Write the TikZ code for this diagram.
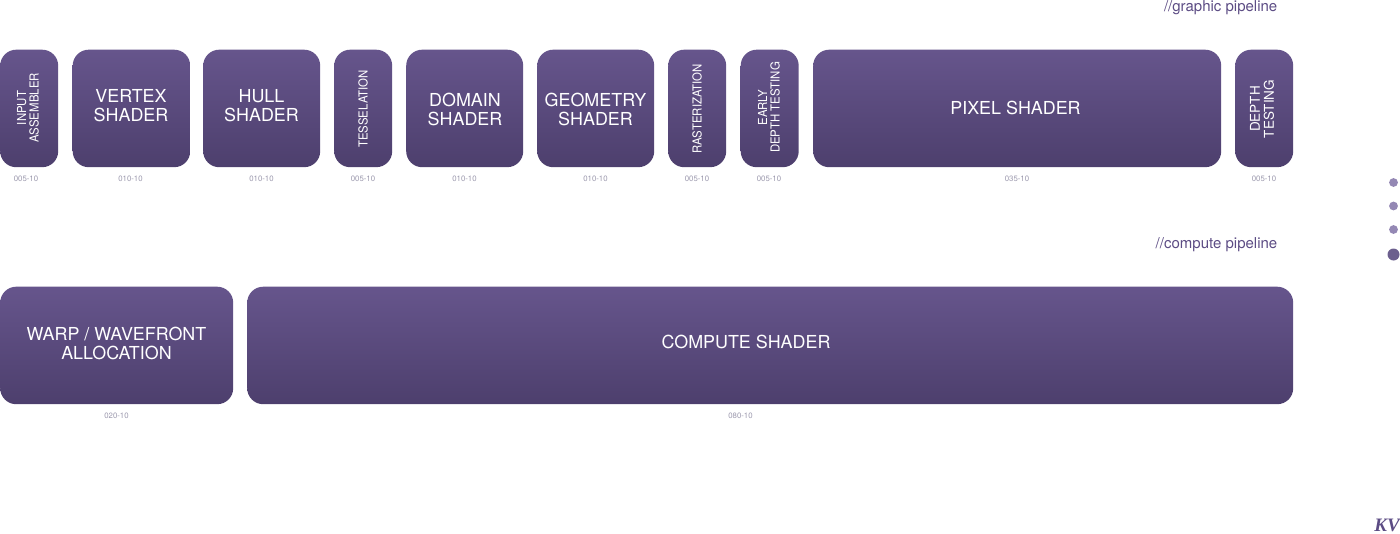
\documentclass[tikz,border=0pt]{standalone}
\usepackage{fontspec}
\setmainfont{TeX Gyre Heros}
\newfontfamily\sidefont[FakeStretch=0.92]{TeX Gyre Heros}
\newfontfamily\logofont{Liberation Serif}
\definecolor{boxtop}{HTML}{66558C}
\definecolor{boxmid}{HTML}{534469}
\definecolor{boxbot}{HTML}{4D3F6D}
\definecolor{headcol}{HTML}{5C4C84}
\definecolor{sizecol}{HTML}{9A97AC}
\definecolor{dotcol}{HTML}{9488B4}
\definecolor{dotdark}{HTML}{6C5F8E}
\tikzset{
  shaderbox/.style={anchor=north west, inner sep=0pt, rounded corners=16pt, draw=none,
    top color=boxtop, middle color=boxmid, bottom color=boxbot, minimum height=117.5pt},
  boxtext/.style={text=white, align=center, inner sep=0pt, font=\fontsize{17.9}{19}\selectfont},
  sidetext/.style={rotate=90, text=white, align=center, inner sep=0pt, font=\sidefont\fontsize{12.4}{12.4}\selectfont},
  sizetext/.style={text=sizecol, inner sep=0pt, font=\fontsize{7.8}{8}\selectfont},
  headtext/.style={text=headcol, inner sep=0pt, anchor=base east, font=\fontsize{15}{16}\selectfont},
  stepdot/.style={circle, fill=dotcol, inner sep=0pt, minimum size=8.8pt},
}
\begin{document}
\begin{tikzpicture}[x=1pt,y=-1pt]
\pgfmathsetmacro{\rowa}{49.5}
\pgfmathsetmacro{\rowb}{286.5}
\useasboundingbox (0,0) rectangle (1400,533);
% graphic pipeline
\node[headtext] (graphichead) at (1277.5,11) {//graphic pipeline};
\node[shaderbox, minimum width=58pt] (input) at (0,\rowa) {};
\node[shaderbox, minimum width=117.5pt] (vertex) at (72.5,\rowa) {};
\node[shaderbox, minimum width=117pt] (hull) at (203,\rowa) {};
\node[shaderbox, minimum width=58pt] (tess) at (334,\rowa) {};
\node[shaderbox, minimum width=117pt] (domain) at (406,\rowa) {};
\node[shaderbox, minimum width=117pt] (geometry) at (537,\rowa) {};
\node[shaderbox, minimum width=58pt] (raster) at (668,\rowa) {};
\node[shaderbox, minimum width=58pt] (early) at (740.5,\rowa) {};
\node[shaderbox, minimum width=408pt] (pixel) at (813,\rowa) {};
\node[shaderbox, minimum width=58pt] (depth) at (1235,\rowa) {};
\node[boxtext] (vertextext) at (131,105.5) {VERTEX\\SHADER};
\node[boxtext] (hulltext) at (261.5,105.5) {HULL\\SHADER};
\node[boxtext] (domaintext) at (465,109.5) {DOMAIN\\SHADER};
\node[boxtext] (geometrytext) at (595.5,109.5) {GEOMETRY\\SHADER};
\node[boxtext] (pixeltext) at (1015.5,107.5) {PIXEL SHADER};
\node[sidetext] (inputtext) at (28,108) {INPUT\\ASSEMBLER};
\node[sidetext] (tesstext) at (363,109) {TESSELATION};
\node[sidetext] (rastertext) at (697,109) {RASTERIZATION};
\node[sidetext] (earlytext) at (769,107.5) {EARLY\\DEPTH TESTING};
\node[sidetext, font=\fontsize{13.5}{14}\selectfont] (depthtext) at (1262,109) {DEPTH\\TESTING};
\node[sizetext] (inputsize) at (26,178.5) {005-10};
\node[sizetext] (vertexsize) at (130.5,178.5) {010-10};
\node[sizetext] (hullsize) at (261.5,178.5) {010-10};
\node[sizetext] (tesssize) at (363,178.5) {005-10};
\node[sizetext] (domainsize) at (464.5,178.5) {010-10};
\node[sizetext] (geometrysize) at (595.5,178.5) {010-10};
\node[sizetext] (rastersize) at (697,178.5) {005-10};
\node[sizetext] (earlysize) at (769,178.5) {005-10};
\node[sizetext] (pixelsize) at (1017,178.5) {035-10};
\node[sizetext] (depthsize) at (1264,178.5) {005-10};
% compute pipeline
\node[headtext] (computehead) at (1277.5,248) {//compute pipeline};
\node[shaderbox, minimum width=233pt] (warp) at (0,\rowb) {};
\node[shaderbox, minimum width=1046pt] (compute) at (247,\rowb) {};
\node[boxtext] (warptext) at (116.5,343.5) {WARP / WAVEFRONT\\ALLOCATION};
\node[boxtext] (computetext) at (746,341.5) {COMPUTE SHADER};
\node[sizetext] (warpsize) at (116.5,415.5) {020-10};
\node[sizetext] (computesize) at (740.5,415.5) {080-10};
% side dots
\node[stepdot] (dota) at (1393.5,182.5) {};
\node[stepdot] (dotb) at (1393.5,206) {};
\node[stepdot] (dotc) at (1393.5,229.5) {};
\node[stepdot, fill=dotdark, minimum size=12pt] (dotd) at (1393.5,254.5) {};
% logo
\node[text=headcol, inner sep=0pt, font=\logofont\bfseries\itshape\fontsize{19}{19}\selectfont] (logo) at (1387,525) {KV};
\end{tikzpicture}
\end{document}
